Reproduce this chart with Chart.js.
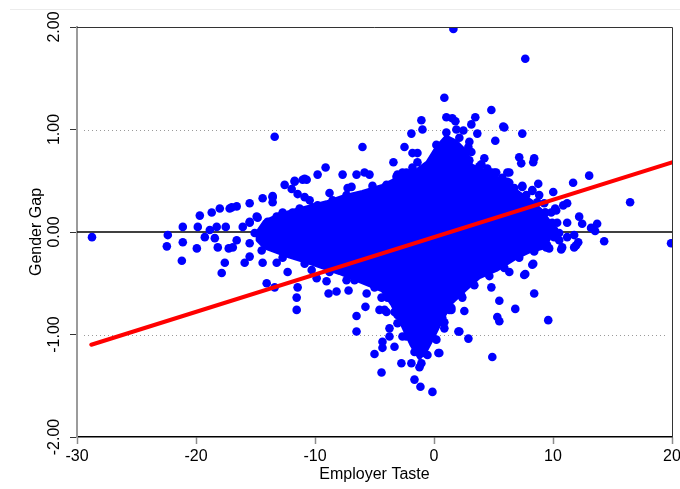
<!DOCTYPE html>
<html>
<head>
<meta charset="utf-8">
<script src="https://cdn.jsdelivr.net/npm/chart.js@4.4.0/dist/chart.umd.min.js"></script>
<style>
  html, body { margin: 0; padding: 0; background: #ffffff; }
  #wrap { position: relative; width: 680px; height: 489px; overflow: hidden; }
  #topRule { position: absolute; left: 10px; right: 0; top: 9px; border-top: 1px solid #ececec; }
  canvas { position: absolute; left: 0; top: 0; }
</style>
</head>
<body>
<div id="wrap">
  <div id="topRule"></div>
  <canvas id="chart" width="680" height="489"></canvas>
</div>
<script>
// Axis ticks
const xTickValues = [-30, -20, -10, 0, 10, 20];
const yTickValues = [2, 1, 0, -1, -2];
const yTickLabels = ['2.00', '1.00', '0.00', '-1.00', '-2.00'];
const guideLevels = [1, -1];

// Outline of the densely packed part of the cloud [employer taste, gender gap]
const denseCore = [
  [-14.82, 0.00], [-14.23, 0.10], [-12.97, 0.17], [-11.04, 0.23], [-9.03, 0.29],
  [-7.52, 0.35], [-6.01, 0.39], [-4.33, 0.45], [-2.90, 0.53], [-1.48, 0.60],
  [-0.55, 0.68], [0.20, 0.82], [1.04, 0.93], [1.88, 0.88], [2.72, 0.78],
  [3.14, 0.65], [4.06, 0.60], [5.23, 0.54], [6.07, 0.45], [7.16, 0.38],
  [8.17, 0.30], [9.01, 0.21], [9.68, 0.10], [9.85, -0.03], [9.26, -0.15],
  [8.00, -0.19], [6.91, -0.25], [5.23, -0.37], [3.81, -0.44], [2.55, -0.57],
  [1.46, -0.69], [0.62, -0.86], [-0.05, -1.02], [-0.64, -1.15], [-1.22, -1.23],
  [-1.90, -1.10], [-2.65, -0.91], [-3.49, -0.71], [-4.33, -0.57], [-5.84, -0.50],
  [-7.94, -0.40], [-10.45, -0.30], [-12.13, -0.24], [-14.23, -0.15], [-14.82, -0.08],
  [-14.82, 0.00]
];

// Observations along the rim of the dense core [employer taste, gender gap]
const rimObservations = [
  [-16.58, -0.08], [-15.07, -0.01], [-14.06, 0.05], [-12.97, 0.15], [-11.54, 0.19],
  [-10.20, 0.24], [-8.52, 0.31], [-7.35, 0.36], [-5.42, 0.38], [-4.58, 0.41],
  [-3.74, 0.44], [-2.06, 0.56], [-0.64, 0.63], [0.20, 0.77],
  [2.97, 0.70], [3.81, 0.64], [4.82, 0.58], [5.74, 0.53], [6.75, 0.43],
  [7.75, 0.36], [8.67, 0.29], [9.35, 0.19], [9.93, 0.08],
  [9.51, -0.13], [8.42, -0.19], [7.16, -0.25], [5.91, -0.35], [4.65, -0.43],
  [3.39, -0.52], [2.30, -0.62], [1.46, -0.74], [0.87, -0.88], [0.20, -1.05],
  [-0.55, -1.20], [-1.64, -1.17], [-2.23, -1.00], [-3.07, -0.81], [-3.91, -0.64],
  [-5.00, -0.54], [-6.68, -0.47], [-8.78, -0.39], [-10.87, -0.31], [-12.72, -0.25],
  [-14.48, -0.18], [-15.49, -0.11]
];

// Individual observations outside the dense core [employer taste, gender gap]
const observations = [
  // far left
  [-28.74, -0.05], [-22.37, -0.03], [-22.45, -0.14], [-21.11, 0.05], [-21.11, -0.10],
  [-21.19, -0.28], [-19.85, 0.05], [-19.93, -0.16], [-19.68, 0.16], [-18.68, 0.19],
  [-18.00, 0.23], [-17.17, 0.23], [-16.58, 0.25], [-17.00, 0.24], [-19.26, -0.05],
  [-18.84, 0.02], [-18.26, 0.05], [-17.50, 0.05], [-18.42, -0.06], [-18.17, -0.15],
  [-17.25, -0.16], [-17.58, -0.30], [-17.84, -0.40], [-16.07, 0.05], [-15.49, 0.10],
  [-14.82, 0.14], [-15.91, -0.30], [-16.91, -0.15], [-15.49, 0.28], [-14.40, 0.33],
  [-13.56, 0.34], [-13.56, 0.29], [-12.55, 0.46], [-11.71, 0.49], [-10.87, 0.52],
  [-14.90, 0.15], [-15.49, 0.09], [-13.22, 0.15], [-13.98, 0.10], [-12.72, 0.19],
  [-11.88, 0.19], [-11.29, 0.23], [-9.78, 0.26], [-15.49, -0.24], [-14.40, -0.30],
  [-13.22, -0.30], [-12.30, -0.39], [-10.28, -0.37], [-9.86, -0.45], [-14.06, -0.50],
  [-13.39, -0.54], [-11.46, -0.54], [-11.54, -0.64], [-11.54, -0.76], [-13.39, 0.93],
  [-13.56, 0.35], [-11.46, 0.37], [-10.87, 0.34], [-10.45, 0.31], [-11.96, 0.42],
  // upper left flank
  [-9.11, 0.63], [-9.78, 0.56], [-7.68, 0.56], [-6.51, 0.56], [-5.84, 0.58],
  [-5.42, 0.56], [-10.70, 0.51], [-11.04, 0.51], [-11.71, 0.50], [-6.93, 0.44],
  [-7.26, 0.43], [-8.78, 0.38], [-5.17, 0.45], [-3.99, 0.46], [-3.15, 0.54],
  [-2.65, 0.58], [-3.07, 0.56], [-2.32, 0.58], [-6.01, 0.83], [-1.06, 1.09],
  [0.87, 1.31], [-0.97, 1.00], [-1.90, 0.96], [-2.48, 0.83], [-1.81, 0.77],
  [-1.39, 0.77], [-3.41, 0.68], [-1.39, 0.68], [-1.81, 0.63],
  // top of the cloud
  [1.63, 1.98], [7.67, 1.69], [4.82, 1.19], [1.04, 1.12], [1.54, 1.11],
  [1.80, 1.08], [3.47, 1.12], [3.14, 1.05], [5.82, 1.03], [5.91, 1.02],
  [1.04, 0.97], [1.88, 1.00], [2.47, 0.99], [3.64, 0.96], [7.42, 0.96],
  [5.15, 0.89], [2.13, 0.92], [2.97, 0.88], [0.20, 0.85], [3.14, 0.78],
  [2.89, 0.83], [4.23, 0.72], [3.98, 0.66], [4.48, 0.62], [5.23, 0.58],
  [6.16, 0.58], [7.16, 0.73], [8.42, 0.72], [8.34, 0.68], [7.33, 0.67],
  [6.33, 0.58], [5.07, 0.58],
  // upper right flank
  [13.04, 0.55], [11.69, 0.48], [8.76, 0.47], [7.42, 0.45], [6.16, 0.49],
  [10.02, 0.39], [8.26, 0.40], [6.83, 0.38], [16.48, 0.29], [10.27, 0.21],
  [11.19, 0.28], [10.86, 0.26], [10.18, 0.23], [12.20, 0.15], [12.45, 0.08],
  [13.71, 0.08], [13.20, 0.04], [13.54, 0.01], [11.19, 0.09], [10.35, 0.09],
  [9.35, 0.19], [9.26, 0.28], [8.84, 0.36], [8.26, 0.41], [7.42, 0.44],
  [5.74, 0.51], [6.33, 0.48], [9.85, 0.19], [9.93, 0.09], [10.10, 0.02],
  // right tail
  [14.30, -0.09], [11.78, -0.03], [11.19, -0.05], [12.12, -0.10], [11.78, -0.15],
  [10.77, -0.15], [10.10, -0.05], [19.92, -0.11], [9.43, -0.15], [10.69, -0.17],
  [11.95, -0.13], [10.52, -0.01], [10.52, -0.08], [9.68, -0.16],
  // lower right flank
  [8.26, -0.32], [7.58, -0.42], [6.33, -0.39], [5.74, -0.32], [4.82, -0.54],
  [5.49, -0.67], [6.83, -0.75], [8.42, -0.60], [7.67, -0.41], [8.34, -0.31],
  [5.32, -0.83], [5.49, -0.87], [9.60, -0.86], [2.55, -0.77], [2.13, -0.97],
  [2.89, -1.04], [4.90, -1.22], [0.45, -1.18], [0.87, -0.94], [0.70, -0.84],
  [1.46, -0.76], [2.38, -0.64], [1.29, -0.76], [0.70, -0.88], [2.05, -0.97],
  // lower left flank and bottom tail
  [-9.03, -0.48], [-8.86, -0.60], [-8.19, -0.58], [-7.35, -0.47], [-7.18, -0.57],
  [-5.66, -0.60], [-6.51, -0.82], [-6.51, -0.97], [-5.76, -0.73], [-5.00, -1.19],
  [-4.41, -1.37], [-4.33, -1.07], [-4.33, -1.13], [-3.74, -1.02], [-3.74, -0.94],
  [-3.99, -0.78], [-4.58, -0.76], [-4.41, -0.64], [-3.32, -1.12], [-2.74, -1.28],
  [-1.90, -1.28], [-1.64, -1.44], [-1.14, -1.51], [-0.13, -1.56], [0.37, -1.18],
  [-3.07, -0.89], [-2.32, -1.02], [-2.65, -1.02], [-4.16, -0.76], [-3.32, -0.78],
  [-0.81, -1.18], [-1.06, -1.28], [-1.22, -1.32]
];

// Fitted regression line end points
const fitX = [-28.8, 20];
const fitY = [-1.10, 0.68];

const FONT = '"Liberation Sans", Arial, Helvetica, sans-serif';
const BLUE = '#0000ff';

const frameAndGuides = {
  id: 'frameAndGuides',
  beforeDatasetsDraw(chart) {
    const { ctx, chartArea: a, scales: { y } } = chart;
    ctx.save();
    ctx.strokeStyle = '#9a9a9a';
    ctx.lineWidth = 1;
    ctx.setLineDash([1, 3]);
    guideLevels.forEach(v => {
      const py = Math.round(y.getPixelForValue(v)) + 0.5;
      ctx.beginPath();
      ctx.moveTo(a.left + 7, py);
      ctx.lineTo(a.right - 4, py);
      ctx.stroke();
    });
    ctx.setLineDash([]);
    ctx.strokeStyle = '#000000';
    ctx.lineWidth = 1.5;
    const zy = y.getPixelForValue(0);
    ctx.beginPath();
    ctx.moveTo(a.left, zy);
    ctx.lineTo(a.right, zy);
    ctx.stroke();
    ctx.restore();
  },
  afterDraw(chart) {
    const { ctx, chartArea: a, scales: { y } } = chart;
    ctx.save();
    // top and right frame
    ctx.strokeStyle = '#333333';
    ctx.lineWidth = 1;
    ctx.beginPath();
    ctx.moveTo(a.left, a.top + 0.5);
    ctx.lineTo(a.right + 0.5, a.top + 0.5);
    ctx.lineTo(a.right + 0.5, a.bottom);
    ctx.stroke();
    // vertical y tick labels
    ctx.fillStyle = '#000000';
    ctx.font = '16px ' + FONT;
    ctx.textAlign = 'center';
    ctx.textBaseline = 'middle';
    yTickValues.forEach((v, i) => {
      const py = y.getPixelForValue(v);
      ctx.save();
      ctx.translate(a.left - 22, py);
      ctx.rotate(-Math.PI / 2);
      ctx.fillText(yTickLabels[i], 0, 0);
      ctx.restore();
    });
    ctx.restore();
  }
};

const toXY = p => ({ x: p[0], y: p[1] });

new Chart(document.getElementById('chart'), {
  type: 'scatter',
  data: {
    datasets: [
      {
        type: 'line',
        label: 'Fit',
        data: fitX.map((v, i) => ({ x: v, y: fitY[i] })),
        borderColor: '#ff0000',
        borderWidth: 4,
        borderCapStyle: 'round',
        pointRadius: 0,
        fill: false,
        order: 0
      },
      {
        label: 'Observations',
        data: observations.concat(rimObservations).map(toXY),
        backgroundColor: BLUE,
        borderWidth: 0,
        pointRadius: 4.3,
        order: 1
      },
      {
        type: 'line',
        label: 'Dense core',
        data: denseCore.map(toXY),
        borderColor: BLUE,
        backgroundColor: BLUE,
        borderWidth: 4,
        borderJoinStyle: 'round',
        tension: 0,
        pointRadius: 0,
        fill: 'shape',
        order: 2
      }
    ]
  },
  options: {
    responsive: false,
    animation: false,
    devicePixelRatio: 1,
    layout: { padding: { left: 0, right: 8, top: 27, bottom: 0 } },
    plugins: { legend: { display: false }, tooltip: { enabled: false } },
    scales: {
      x: {
        type: 'linear',
        min: -30,
        max: 20,
        afterBuildTicks(s) { s.ticks = xTickValues.map(v => ({ value: v })); },
        ticks: {
          color: '#000000',
          font: { family: FONT, size: 16 },
          padding: 3,
          maxRotation: 0,
          autoSkip: false,
          callback: v => String(v)
        },
        grid: { drawOnChartArea: false, tickLength: 7, tickColor: '#8c8c8c', tickWidth: 1.5 },
        border: { color: '#000000', width: 1.5 },
        title: {
          display: true,
          text: 'Employer Taste',
          color: '#000000',
          font: { family: FONT, size: 16 },
          padding: { top: 0, bottom: 5 }
        },
        afterFit(s) { s.height = 52; s.paddingLeft = 0; s.paddingRight = 0; }
      },
      y: {
        type: 'linear',
        min: -2,
        max: 2,
        afterBuildTicks(s) { s.ticks = yTickValues.map(v => ({ value: v })); },
        ticks: { display: false },
        grid: { drawOnChartArea: false, tickLength: 7, tickColor: '#333333', tickWidth: 1 },
        border: { color: '#9b9b9b', width: 2 },
        title: {
          display: true,
          text: 'Gender Gap',
          color: '#000000',
          font: { family: FONT, size: 16 },
          padding: { top: 27, bottom: 0 }
        },
        afterFit(s) { s.width = 77; }
      }
    }
  },
  plugins: [frameAndGuides]
});
</script>
</body>
</html>
